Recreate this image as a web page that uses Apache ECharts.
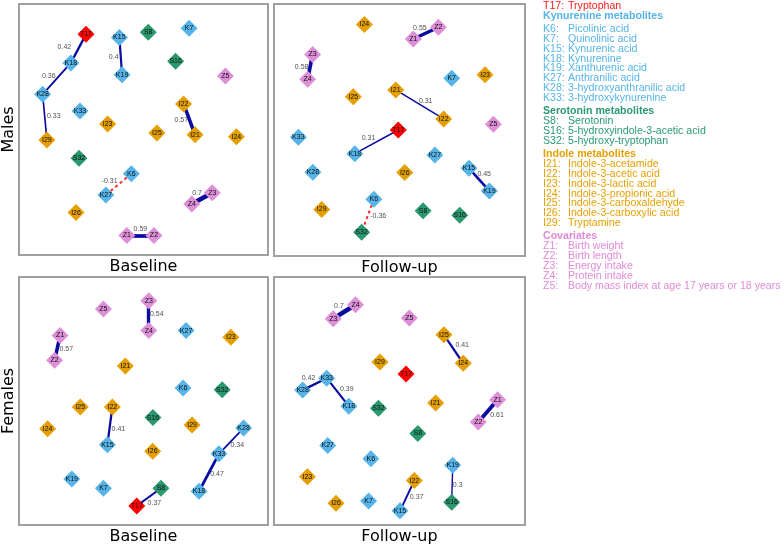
<!DOCTYPE html>
<html><head><meta charset="utf-8">
<script src="https://cdn.jsdelivr.net/npm/echarts@6/dist/echarts.min.js"></script>
<style>html,body{margin:0;padding:0;background:#fff}#c{width:784px;height:546px}</style>
</head><body><div id="c"></div>
<script>
// ---- DATA ----
// Node layout: [code, x (% of panel width from left), y (% of panel height from top)]
const malesBaselineNodes = [
  ['T17',26.9,12.1],['K15',40.3,13.3],['S8',51.9,11.3],['K7',68.3,9.7],['K18',20.8,23.5],['S16',62.9,22.8],
  ['K19',41.4,28.2],['Z5',82.9,28.7],['K28',9.5,36.0],['I22',66.1,39.8],['K33',24.5,42.6],['I23',35.6,47.8],
  ['I25',55.4,51.4],['I21',70.7,52.1],['I24',87.3,52.9],['I29',11.2,54.2],['S32',24.1,61.5],['K6',45.1,67.6],
  ['K27',34.9,76.1],['Z3',77.6,75.2],['Z4',69.4,79.7],['I26',22.9,83.1],['Z1',43.3,92.2],['Z2',54.2,92.2]
];
const malesBaselineEdges = [
  ['T17','K18',0.42],['K18','K28',0.36],['K28','I29',0.33],['K15','K19',0.4],
  ['I22','I21',0.57],['K6','K27',-0.31],['Z3','Z4',0.7],['Z1','Z2',0.59]
];
const malesFollowNodes = [
  ['I24',36.0,8.1],['Z2',65.5,9.2],['Z1',55.5,13.9],['Z3',15.4,20.0],['Z4',13.4,29.9],['K7',70.8,29.5],
  ['I23',84.1,28.1],['I25',31.6,36.8],['I21',48.5,34.1],['I22',67.6,45.6],['T17',49.5,50.0],['Z5',87.4,47.7],
  ['K33',9.7,52.9],['K18',32.2,59.4],['K27',64.1,59.9],['K15',77.7,65.2],['K28',15.5,66.8],['I26',52.1,66.9],
  ['K19',85.8,74.2],['K6',39.8,77.5],['I29',19.0,81.5],['S8',59.4,82.0],['S16',74.0,83.8],['S32',34.9,90.6]
];
const malesFollowEdges = [
  ['Z1','Z2',0.55],['Z3','Z4',0.58],['I21','I22',0.31],['T17','K18',0.31],['K15','K19',0.45],['K6','S32',-0.36]
];
const femalesBaselineNodes = [
  ['Z3',52.1,9.6],['Z5',33.9,12.9],['Z4',52.1,21.6],['K27',67.1,21.6],['Z1',16.5,23.6],['I23',85.1,24.3],
  ['Z2',14.3,33.6],['I21',42.7,35.9],['K6',65.9,44.8],['S32',81.6,45.5],['I25',24.6,52.4],['I22',37.5,52.4],
  ['S16',53.8,56.7],['I24',11.5,61.2],['I29',69.5,59.7],['K28',90.2,60.9],['K15',35.5,67.6],['I26',53.7,70.3],
  ['K33',80.3,71.3],['K19',21.2,81.5],['K7',33.9,85.2],['S8',57.0,85.2],['K18',72.3,86.4],['T17',47.3,92.3]
];
const femalesBaselineEdges = [
  ['Z3','Z4',0.54],['Z1','Z2',0.57],['I22','K15',0.41],['K28','K33',0.34],['K33','K18',0.47],['S8','T17',0.37]
];
const femalesFollowNodes = [
  ['Z4',32.5,11.2],['Z3',23.6,16.8],['Z5',53.9,16.5],['I25',67.7,23.3],['I29',42.2,34.3],['I24',75.4,34.8],
  ['T17',52.6,39.1],['K33',21.0,40.8],['K28',11.4,45.6],['Z1',89.1,49.5],['I21',64.4,50.8],['K18',29.8,52.1],
  ['S32',41.6,52.9],['Z2',81.4,58.5],['S8',57.3,63.1],['K27',21.4,67.9],['K6',38.6,73.3],['K19',71.2,75.9],
  ['I23',13.3,80.5],['I22',55.9,82.1],['I26',24.7,91.2],['K7',37.7,90.3],['K15',50.2,94.3],['S16',70.8,90.8]
];
const femalesFollowEdges = [
  ['Z3','Z4',0.7],['I25','I24',0.41],['K28','K33',0.42],['K33','K18',0.39],['Z1','Z2',0.61],['K19','S16',0.3],['I22','K15',0.37]
];
const rowTitles = ['Males','Females'];
const colTitles = ['Baseline','Follow-up'];

// Legend text
const tryptophanRows = [['T17:','Tryptophan']];
const kynurenineRows = [['K6:','Picolinic acid'],['K7:','Quinolinic acid'],['K15:','Kynurenic acid'],['K18:','Kynurenine'],
  ['K19:','Xanthurenic acid'],['K27:','Anthranilic acid'],['K28:','3-hydroxyanthranilic acid'],['K33:','3-hydroxykynurenine']];
const serotoninRows = [['S8:','Serotonin'],['S16:','5-hydroxyindole-3-acetic acid'],['S32:','5-hydroxy-tryptophan']];
const indoleRows = [['I21:','Indole-3-acetamide'],['I22:','Indole-3-acetic acid'],['I23:','Indole-3-lactic acid'],
  ['I24:','Indole-3-propionic acid'],['I25:','Indole-3-carboxaldehyde'],['I26:','Indole-3-carboxylic acid'],['I29:','Tryptamine']];
const covariateRows = [['Z1:','Birth weight'],['Z2:','Birth length'],['Z3:','Energy intake'],['Z4:','Protein intake'],
  ['Z5:','Body mass index at age 17 years or 18 years']];
const groupHeaders = ['Kynurenine metabolites','Serotonin metabolites','Indole metabolites','Covariates'];

// ---- STYLE / LAYOUT ----
const groupColor = {T:'#ff0000', K:'#56b4e9', S:'#2a9970', I:'#e69f00', Z:'#dd8fd8'};
const legendColor = {T:'#ff1a1a', K:'#56b4e9', S:'#2a9970', I:'#e69f00', Z:'#e08ad8'};
const posColor = '#0a0aa0', negColor = '#ff2a2a';
const gridRects = [
  {left:19, top:4, width:249, height:251},
  {left:274, top:4, width:251, height:252},
  {left:19, top:277, width:249, height:250},
  {left:274, top:277, width:251, height:250}
];
// pixel offsets of each edge label from its edge midpoint
const labelOffsets = [
  [[-14,-2],[-8,-3],[9,-1],[-7,1],[-8,1],[-9,-3],[-5,-5],[0,-6]],
  [[-6,-5],[-8.5,0],[6,-3.5],[-8,-4],[5,-6],[10.5,0]],
  [[8,-2],[9,1.5],[8.5,3],[6,4],[8,2],[5.5,6]],
  [[-5.5,-6],[8.6,-3.7],[-6,-6],[9,-3],[9,4],[5.5,1.4],[9.5,1]]
];
const panels = [
  {nodes:malesBaselineNodes, edges:malesBaselineEdges},
  {nodes:malesFollowNodes, edges:malesFollowEdges},
  {nodes:femalesBaselineNodes, edges:femalesBaselineEdges},
  {nodes:femalesFollowNodes, edges:femalesFollowEdges}
];
const titleFont = 'DejaVu Sans';

const grid = [], xAxis = [], yAxis = [], series = [];
panels.forEach((p, i) => {
  const r = gridRects[i];
  grid.push({left:r.left, top:r.top, width:r.width, height:r.height, show:true, borderColor:'#a0a0a0', borderWidth:2, backgroundColor:'#fff'});
  xAxis.push({type:'value', gridIndex:i, min:0, max:100, axisLine:{show:false}, axisTick:{show:false}, axisLabel:{show:false}, splitLine:{show:false},
    name: colTitles[i % 2], nameLocation:'middle', nameGap:4,
    nameTextStyle:{fontFamily:titleFont, fontSize:16, color:'#000', verticalAlign:'top'}});
  yAxis.push({type:'value', gridIndex:i, min:0, max:100, inverse:true, axisLine:{show:false}, axisTick:{show:false}, axisLabel:{show:false}, splitLine:{show:false},
    name: (i % 2 === 0) ? rowTitles[Math.floor(i/2)] : '', nameLocation:'middle', nameGap:2, nameRotate:90,
    nameTextStyle:{fontFamily:titleFont, fontSize:16, color:'#000'}});
  const pos = {};
  p.nodes.forEach(n => { pos[n[0]] = [n[1], n[2]]; });
  series.push({
    type:'graph', coordinateSystem:'cartesian2d', xAxisIndex:i, yAxisIndex:i, layout:'none', silent:true, z:2,
    symbol:'diamond', symbolSize:17,
    label:{show:true, position:'inside', fontSize:7, color:'#111', fontFamily:'Liberation Sans', textBorderWidth:0},
    data: p.nodes.map(n => ({name:n[0], value:[n[1], n[2]], itemStyle:{color:groupColor[n[0][0]]}})),
    links: p.edges.map(e => ({source:e[0], target:e[1], value:e[2],
      lineStyle:{width: e[2] < 0 ? 2 : 8*e[2]-1, color: e[2] < 0 ? negColor : posColor, type: e[2] < 0 ? [3,3] : 'solid', opacity:1, curveness:0}})),
    edgeSymbol:['none','none']
  });
  series.push({
    type:'scatter', xAxisIndex:i, yAxisIndex:i, silent:true, z:3, symbolSize:0,
    data: p.edges.map((e, k) => {
      const a = pos[e[0]], b = pos[e[1]];
      return {value:[(a[0]+b[0])/2, (a[1]+b[1])/2, e[2]], label:{offset:labelOffsets[i][k]}};
    }),
    label:{show:true, position:'inside', fontSize:7, color:'#222', fontFamily:'Liberation Sans', textBorderWidth:0,
      formatter: q => String(q.value[2])}
  });
});

// Legend via graphic text
const graphic = [];
const lf = '10.6px "Liberation Sans"', lfb = 'bold 10.6px "Liberation Sans"';
function addRow(code, name, color, y) {
  graphic.push({type:'text', x:543, y:y, style:{text:code, fill:color, font:lf, verticalAlign:'middle'}});
  graphic.push({type:'text', x:568, y:y, style:{text:name, fill:color, font:lf, verticalAlign:'middle'}});
}
function addHeader(text, color, y) {
  graphic.push({type:'text', x:543, y:y, style:{text:text, fill:color, font:lfb, verticalAlign:'middle'}});
}
addRow(tryptophanRows[0][0], tryptophanRows[0][1], legendColor.T, 6);
addHeader(groupHeaders[0], legendColor.K, 16);
kynurenineRows.forEach((r, k) => addRow(r[0], r[1], legendColor.K, 29 + k*9.86));
addHeader(groupHeaders[1], legendColor.S, 111);
serotoninRows.forEach((r, k) => addRow(r[0], r[1], legendColor.S, 121 + k*10));
addHeader(groupHeaders[2], legendColor.I, 153.7);
indoleRows.forEach((r, k) => addRow(r[0], r[1], legendColor.I, 164 + k*9.88));
addHeader(groupHeaders[3], legendColor.Z, 236);
covariateRows.forEach((r, k) => addRow(r[0], r[1], legendColor.Z, 246 + k*10));

const chart = echarts.init(document.getElementById('c'), null, {renderer:'canvas'});
chart.setOption({animation:false, backgroundColor:'#fff', grid, xAxis, yAxis, series, graphic});
</script></body></html>
